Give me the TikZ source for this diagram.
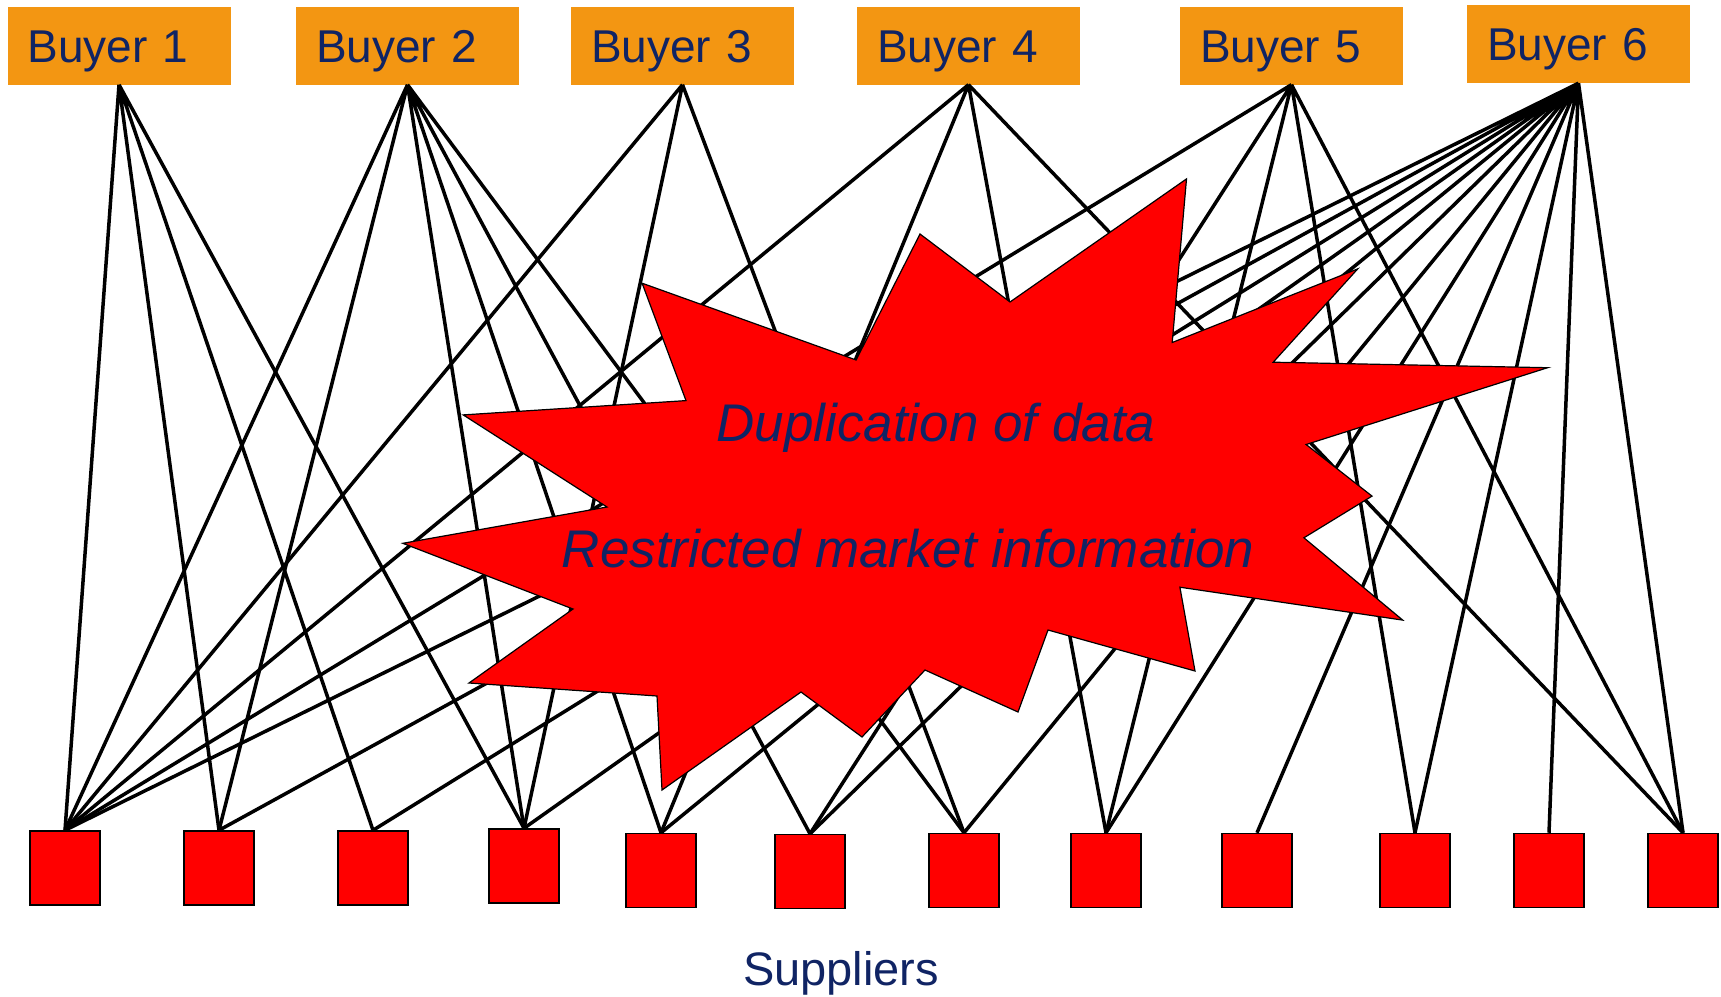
\documentclass[tikz,border=0pt]{standalone}
\usepackage{fontspec}
\setmainfont{Liberation Sans}
\usepackage{xcolor}
\usepackage{tikz}
\definecolor{buyerorange}{RGB}{243,150,18}
\definecolor{navy}{RGB}{16,36,100}

\begin{document}
\begin{tikzpicture}[x=1pt,y=-1pt,
    buyer/.style={rectangle,fill=buyerorange,text=navy,inner xsep=20pt,inner ysep=0pt,text width=183pt,align=left,minimum height=78pt,text height=33pt,text depth=0pt,font=\fontsize{46}{50}\selectfont},
    supplier/.style={rectangle,draw=black,line width=1.5pt,fill=red,minimum width=70pt,minimum height=74pt,inner sep=0pt},
    link/.style={draw=black,line width=3.5pt},
    label/.style={text=navy,font=\fontsize{47}{52}\selectfont},
    burst/.style={text=navy,font=\fontsize{53}{58}\selectfont\itshape}]

    \useasboundingbox (0,0) rectangle (1721,996);

    % The buyers
    \node [buyer] at (119,45.5) (b1) {Buyer 1};
    \node [buyer] at (407.5,45.5) (b2) {Buyer 2};
    \node [buyer] at (682.5,45.5) (b3) {Buyer 3};
    \node [buyer] at (968.5,45.5) (b4) {Buyer 4};
    \node [buyer] at (1291.5,45.5) (b5) {Buyer 5};
    \node [buyer] at (1578.5,44) (b6) {Buyer 6};

    % The suppliers
    \node [supplier] at (65,868) (s1) {};
    \node [supplier] at (219,868) (s2) {};
    \node [supplier] at (373,868) (s3) {};
    \node [supplier] at (524,866) (s4) {};
    \node [supplier] at (661,870.5) (s5) {};
    \node [supplier] at (810,871.5) (s6) {};
    \node [supplier] at (964,870.5) (s7) {};
    \node [supplier] at (1106,870.5) (s8) {};
    \node [supplier] at (1257,870.5) (s9) {};
    \node [supplier] at (1415,870.5) (s10) {};
    \node [supplier] at (1549,870.5) (s11) {};
    \node [supplier] at (1683,870.5) (s12) {};

    \node [label,anchor=base] at (841,985) (sup) {Suppliers};

    % Links
    \draw[link]
    (b1.south) -- (s1.north)
    (b1.south) -- (s2.north)
    (b1.south) -- (s3.north)
    (b1.south) -- (s4.north);

    \draw[link]
    (b2.south) -- (s1.north)
    (b2.south) -- (s2.north)
    (b2.south) -- (s4.north)
    (b2.south) -- (s5.north)
    (b2.south) -- (s6.north)
    (b2.south) -- (s7.north);

    \draw[link]
    (b3.south) -- (s1.north)
    (b3.south) -- (s4.north)
    (b3.south) -- (s7.north);

    \draw[link]
    (b4.south) -- (s1.north)
    (b4.south) -- (s5.north)
    (b4.south) -- (s8.north)
    (b4.south) -- (s12.north);

    \draw[link]
    (b5.south) -- (s1.north)
    (b5.south) -- (s6.north)
    (b5.south) -- (s8.north)
    (b5.south) -- (s10.north)
    (b5.south) -- (s12.north);

    \draw[link]
    (b6.south) -- (s1.north)
    (b6.south) -- (s2.north)
    (b6.south) -- (s3.north)
    (b6.south) -- (s4.north)
    (b6.south) -- (s5.north)
    (b6.south) -- (s6.north)
    (b6.south) -- (s7.north)
    (b6.south) -- (s8.north)
    (b6.south) -- (s9.north)
    (b6.south) -- (s10.north)
    (b6.south) -- (s11.north)
    (b6.south) -- (s12.north);

    % The burst
    \filldraw[fill=red,draw=black,line width=1.2pt]
    (1186.5,178.9) -- (1172.2,342.5) -- (1357.7,268.9) -- (1273.2,362.2)
    -- (1547.6,367.7) -- (1306.1,444.5) -- (1372,496.1) -- (1303.9,537.8)
    -- (1402.7,620.1) -- (1179.9,587.2) -- (1195,671) -- (1048,630)
    -- (1018,712) -- (925,670) -- (862,737) -- (801,692)
    -- (662,790) -- (657,696) -- (469,683) -- (573,609)
    -- (402.8,543.3) -- (607,507) -- (463.2,414.9) -- (686,400.6)
    -- (642.1,283.2) -- (856.1,360) -- (920,234) -- (1010,302) -- cycle;

    \node [burst,anchor=base] at (936,441) (dup) {Duplication of data};
    \node [burst,anchor=base] at (908,567) (res) {Restricted market information};

\end{tikzpicture}
\end{document}
